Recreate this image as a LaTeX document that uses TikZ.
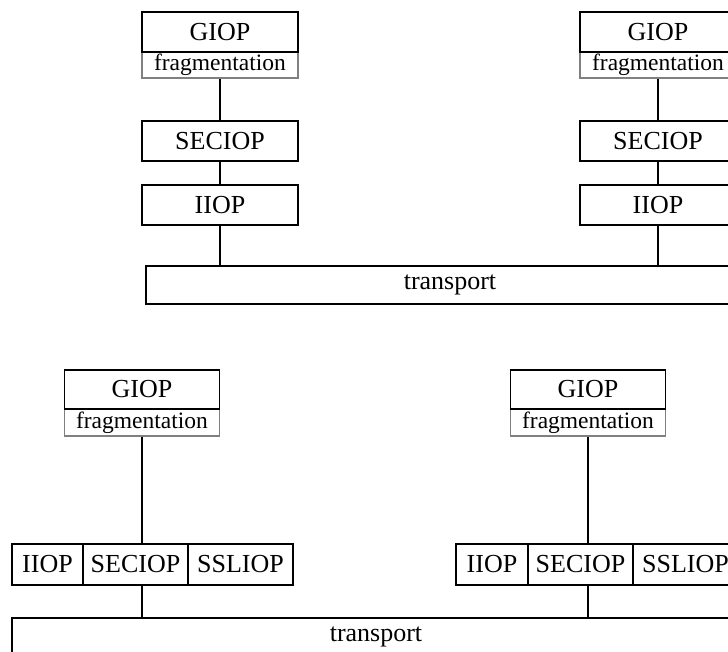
\documentclass[tikz,border=0pt]{standalone}
\usepackage{fontspec}
\setmainfont{Liberation Serif}
\tikzset{
  layer/.style={draw, line width=1.7pt, inner sep=0pt, minimum width=156pt, minimum height=40pt, font=\fontsize{26}{30}\selectfont},
  frag/.style={draw=gray, line width=1.4pt, inner sep=0pt, minimum width=156pt, minimum height=26pt, font=\fontsize{23.5}{26}\selectfont},
  link/.style={line width=1.7pt}
}
\begin{document}
\begin{tikzpicture}[x=1pt, y=-1pt]
            \useasboundingbox (0,0) rectangle (728,652);
            \clip (0,0) rectangle (728,652);
            \node[frag] (F1) at (220,65) {fragmentation};
            \node[layer] (G1) at (220,32) {GIOP};
            \node[layer] (S1) at (220,141) {SECIOP};
            \node[layer] (I1) at (220,205) {IIOP};
            \node[frag] (F2) at (658,65) {fragmentation};
            \node[layer] (G2) at (658,32) {GIOP};
            \node[layer] (S2) at (658,141) {SECIOP};
            \node[layer] (I2) at (658,205) {IIOP};
            \node[layer, minimum width=608pt, minimum height=38pt] (T1) at (450,285) {transport};
            \draw[link] (F1) to (S1);
            \draw[link] (S1) to (I1);
            \draw[link] (I1) to (I1 |- T1.north);
            \draw[link] (F2) to (S2);
            \draw[link] (S2) to (I2);
            \draw[link] (I2) to (I2 |- T1.north);
            \node[frag, minimum width=155pt, minimum height=27pt] (F3) at (142,422.5) {fragmentation};
            \node[layer, minimum width=155pt, minimum height=39pt] (G3) at (142,389.5) {GIOP};
            \node[layer, minimum width=71pt, minimum height=41pt] (I3) at (47.5,564.5) {IIOP};
            \node[layer, minimum width=105pt, minimum height=41pt] (S3) at (135.5,564.5) {SECIOP};
            \node[layer, minimum width=105pt, minimum height=41pt] (L3) at (240.5,564.5) {SSLIOP};
            \node[frag, minimum width=155pt, minimum height=27pt] (F4) at (588,422.5) {fragmentation};
            \node[layer, minimum width=155pt, minimum height=39pt] (G4) at (588,389.5) {GIOP};
            \node[layer, minimum width=72pt, minimum height=41pt] (I4) at (492,564.5) {IIOP};
            \node[layer, minimum width=105pt, minimum height=41pt] (S4) at (580.5,564.5) {SECIOP};
            \node[layer, minimum width=105pt, minimum height=41pt] (L4) at (685.5,564.5) {SSLIOP};
            \node[layer, minimum width=728pt, minimum height=38pt] (T2) at (376,637) {transport};
            \draw[link] (F3) to (F3 |- S3.north);
            \draw[link] (F3 |- S3.south) to (F3 |- T2.north);
            \draw[link] (F4) to (F4 |- S4.north);
            \draw[link] (F4 |- S4.south) to (F4 |- T2.north);
        \end{tikzpicture}
\end{document}
